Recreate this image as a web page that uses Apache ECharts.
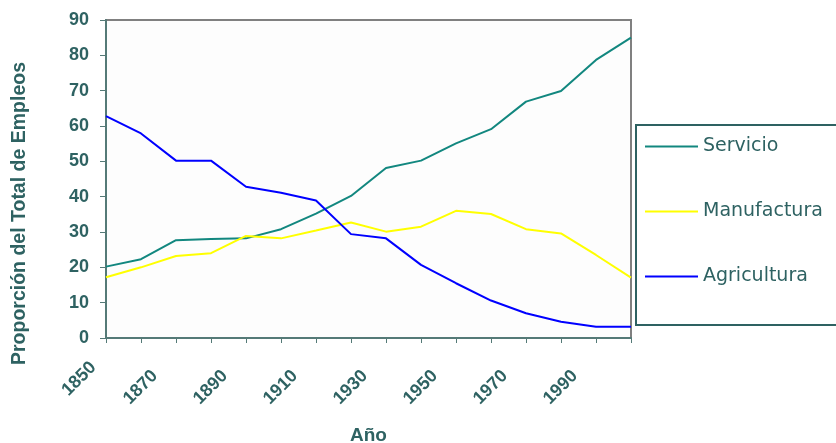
<!DOCTYPE html>
<html>
<head>
<meta charset="utf-8">
<script src="https://cdn.jsdelivr.net/npm/echarts@6/dist/echarts.min.js"></script>
<style>
  html, body { margin: 0; padding: 0; background: #ffffff; }
  #chart { width: 836px; height: 443px; }
</style>
</head>
<body>
<div id="chart"></div>
<script>
// Employment share by sector, 1850–2000 (every 10 years)
const years = [1850, 1860, 1870, 1880, 1890, 1900, 1910, 1920, 1930, 1940, 1950, 1960, 1970, 1980, 1990, 2000];
const servicio    = [20.2, 22.3, 27.7, 28.0, 28.2, 30.8, 35.2, 40.2, 48.1, 50.2, 55.1, 59.1, 66.9, 69.9, 78.7, 85.0];
const manufactura = [17.2, 20.0, 23.2, 24.0, 28.9, 28.2, 30.4, 32.7, 30.1, 31.5, 36.0, 35.1, 30.8, 29.6, 23.5, 17.1];
const agricultura = [62.8, 57.9, 50.2, 50.2, 42.8, 41.1, 38.9, 29.4, 28.2, 20.7, 15.5, 10.6, 7.0, 4.6, 3.2, 3.2];
const seriesNames = ['Servicio', 'Manufactura', 'Agricultura'];
const seriesColors = ['#12877f', '#ffff00', '#0000ff'];

const textColor = '#2e6262';
const axisColor = '#557a77';
const fontFamily = '"Liberation Sans", Arial, sans-serif';

const pairs = vals => years.map((y, i) => [y, vals[i]]);

const chart = echarts.init(document.getElementById('chart'));
chart.setOption({
  backgroundColor: '#ffffff',
  animation: false,
  grid: {
    left: 106, right: 205, top: 20, bottom: 105,
    outerBoundsMode: 'none',
    containLabel: false,
    show: true,
    backgroundColor: '#fdfdfd',
    borderColor: '#808080',
    borderWidth: 2
  },
  legend: {
    orient: 'vertical',
    left: 636,
    top: 125,
    data: seriesNames,
    icon: 'rect',
    itemWidth: 53,
    itemHeight: 2,
    itemGap: 46,
    borderColor: textColor,
    borderWidth: 2,
    padding: [12, 80, 39, 9],
    textStyle: { color: textColor, fontFamily: '"DejaVu Sans", sans-serif', fontSize: 19 }
  },
  xAxis: {
    type: 'value',
    min: 1850, max: 2000, interval: 10,
    name: 'Año',
    nameLocation: 'middle',
    nameGap: 88,
    nameTextStyle: { color: textColor, fontFamily: fontFamily, fontSize: 19, fontWeight: 'bold' },
    axisLine: { show: true, onZero: false, lineStyle: { color: axisColor, width: 2 } },
    axisTick: { show: true, length: 5, lineStyle: { color: axisColor, width: 1 } },
    splitLine: { show: false },
    axisLabel: {
      rotate: 45,
      margin: 14,
      color: textColor,
      fontFamily: fontFamily,
      fontSize: 18,
      fontWeight: 'bold',
      formatter: v => {
        if ((v - 1850) % 20 !== 0 || v >= 2000) return '';
        return v === 1850 ? '{first|' + v + '}' : '{yr|' + v + '}';
      },
      rich: {
        first: { padding: [0, 18, 0, 0], color: textColor, fontFamily: fontFamily, fontSize: 18, fontWeight: 'bold' },
        yr: { padding: [0, 30, 0, 0], color: textColor, fontFamily: fontFamily, fontSize: 18, fontWeight: 'bold' }
      }
    }
  },
  yAxis: {
    type: 'value',
    min: 0, max: 90, interval: 10,
    axisLine: { show: true, lineStyle: { color: axisColor, width: 2 } },
    axisTick: { show: true, length: 6, lineStyle: { color: axisColor, width: 1 } },
    splitLine: { show: false },
    axisLabel: {
      margin: 17,
      color: textColor,
      fontFamily: fontFamily,
      fontSize: 18,
      fontWeight: 'bold'
    }
  },
  graphic: [{
    type: 'text',
    left: 10,
    top: 62,
    rotation: Math.PI / 2,
    style: {
      text: 'Proporción del Total de Empleos',
      fill: textColor,
      font: 'bold 19.5px "Liberation Sans", Arial, sans-serif'
    }
  }],
  series: [
    { name: seriesNames[0], type: 'line', data: pairs(servicio) },
    { name: seriesNames[1], type: 'line', data: pairs(manufactura) },
    { name: seriesNames[2], type: 'line', data: pairs(agricultura) }
  ].map((s, i) => Object.assign(s, {
    showSymbol: false,
    symbol: 'none',
    color: seriesColors[i],
    lineStyle: { color: seriesColors[i], width: 2 }
  }))
});
</script>
</body>
</html>
